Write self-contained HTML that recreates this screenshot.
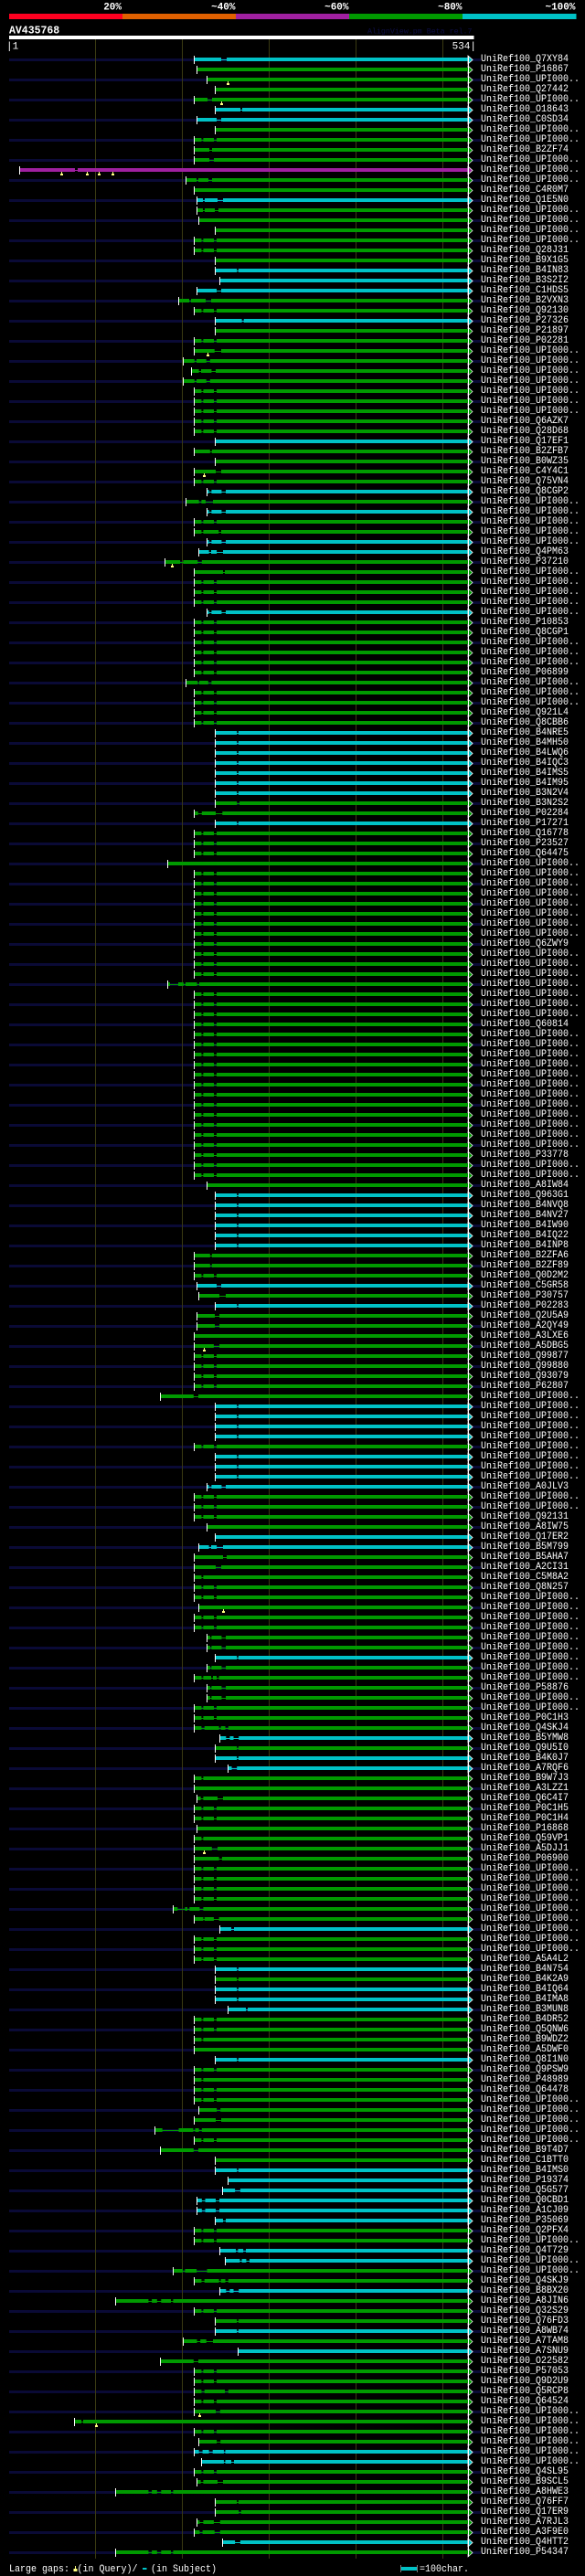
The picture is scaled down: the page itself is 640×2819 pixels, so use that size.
<!DOCTYPE html>
<html><head><meta charset="utf-8">
<style>
html,body{margin:0;padding:0;background:#000}
body{width:640px;height:2819px;position:relative;overflow:hidden}
svg{position:absolute;left:0;top:0}
svg text{font-family:"Liberation Mono",monospace;fill:#fff}
#lb{position:absolute;left:526px;top:60px;margin:0;font:11px/11px "Liberation Mono",monospace;color:#fff;white-space:pre;transform:scaleX(.909);transform-origin:0 0}
</style></head><body>
<svg width="640" height="2819" viewBox="0 0 640 2819" xmlns="http://www.w3.org/2000/svg">
<defs>
<pattern id="nv" patternUnits="userSpaceOnUse" x="0" y="64" width="640" height="22"><rect x="10" y="0" width="516" height="3" fill="#0a0a36"/></pattern>
<pattern id="ap" patternUnits="userSpaceOnUse" x="0" y="60" width="640" height="11"><path d="M512 1l5 4.5-5 4.5z" fill="#009a00" stroke="#fff" stroke-width=".7"/></pattern>
<g id="s" stroke="#009a00" fill="none"><path d="M212 .5H512"/><path stroke-width="4" d="M212.3 0H220.4M222.4 0H234M237 0H512"/><path stroke="#fff" d="M212.5-4v9"/></g>
<g id="gs" stroke="#009a00" fill="none"><path stroke-width="4" d="M212.3 0H512"/><path stroke="#fff" d="M212.5-4v9"/></g>
<g id="gs2" stroke="#009a00" fill="none"><path stroke-width="4" d="M235.5 0H512"/><path stroke="#fff" d="M235.5-4v9"/></g>
<g id="gsa" stroke="#009a00" fill="none"><path stroke-width="4" d="M226.5 0H512"/><path stroke="#fff" d="M226.5-4v9"/></g>
<g id="gb" stroke="#009a00" fill="none"><path d="M235 .5H512"/><path stroke-width="4" d="M235.5 0H259.2M260.8 0H512"/><path stroke="#fff" d="M235.5-4v9"/></g>
<g id="gq" stroke="#009a00" fill="none"><path d="M226 .5H512"/><path stroke-width="4" d="M226.5 0H229.8M231.4 0H242.4M247 0H512"/><path stroke="#fff" d="M226.5-4v9"/></g>
<g id="g2" stroke="#009a00" fill="none"><path d="M212 .5H512"/><path stroke-width="4" d="M212.3 0H220.4M222.4 0H512"/><path stroke="#fff" d="M212.5-4v9"/></g>
<g id="g30" stroke="#009a00" fill="none"><path d="M200 .5H512"/><path stroke-width="4" d="M200.4 0H212.7M215 0H225.7M229.8 0H512"/><path stroke="#fff" d="M200.5-4v9"/></g>
<g id="g39" stroke="#009a00" fill="none"><path d="M212 .5H512"/><path stroke-width="4" d="M212.3 0H229.8M231.8 0H512"/><path stroke="#fff" d="M212.5-4v9"/></g>
<g id="g41" stroke="#009a00" fill="none"><path d="M212 .5H512"/><path stroke-width="4" d="M212.3 0H236M242 0H512"/><path stroke="#fff" d="M212.5-4v9"/></g>
<g id="g125" stroke="#009a00" fill="none"><path d="M215 .5H512"/><path stroke-width="4" d="M215.5 0H235M240 0H512"/><path stroke="#fff" d="M215.5-4v9"/></g>
<g id="g133" stroke="#009a00" fill="none"><path d="M175 .5H512"/><path stroke-width="4" d="M175.5 0H211.8M217 0H512"/><path stroke="#fff" d="M175.5-4v9"/></g>
<g id="g166" stroke="#009a00" fill="none"><path d="M212 .5H512"/><path stroke-width="4" d="M212.3 0H220.4M223.7 0H239.6M241.6 0H246.5M249.8 0H512"/><path stroke="#fff" d="M212.5-4v9"/></g>
<g id="g173" stroke="#009a00" fill="none"><path d="M215 .5H512"/><path stroke-width="4" d="M215.5 0H219.6M222.4 0H238M244 0H512"/><path stroke="#fff" d="M215.5-4v9"/></g>
<g id="g204" stroke="#009a00" fill="none"><path d="M217 .5H512"/><path stroke-width="4" d="M217.6 0H237.1M241.2 0H512"/><path stroke="#fff" d="M217.5-4v9"/></g>
<g id="g223" stroke="#009a00" fill="none"><path d="M126 .5H512"/><path stroke-width="4" d="M126.5 0H162.4M166.1 0H171.8M176.3 0H187M189.4 0H512"/><path stroke="#fff" d="M126.5-4v9"/></g>
<g id="cb" stroke="#00c2c6" fill="none"><path d="M235 .5H512"/><path stroke-width="4" d="M235.5 0H259.2M260.8 0H512"/><path stroke="#fff" d="M235.5-4v9"/><path fill="#00c2c6" stroke="#fff" stroke-width=".7" d="M512-4l5 4.5-5 4.5z"/></g>
<g id="cq" stroke="#00c2c6" fill="none"><path d="M226 .5H512"/><path stroke-width="4" d="M226.5 0H228.6M231.4 0H242.4M247 0H512"/><path stroke="#fff" d="M226.5-4v9"/><path fill="#00c2c6" stroke="#fff" stroke-width=".7" d="M512-4l5 4.5-5 4.5z"/></g>
<g id="cs" stroke="#00c2c6" fill="none"><path stroke-width="4" d="M235.5 0H512"/><path stroke="#fff" d="M235.5-4v9"/><path fill="#00c2c6" stroke="#fff" stroke-width=".7" d="M512-4l5 4.5-5 4.5z"/></g>
<g id="c6" stroke="#00c2c6" fill="none"><path d="M215 .5H512"/><path stroke-width="4" d="M215.3 0H237M242 0H512"/><path stroke="#fff" d="M215.5-4v9"/><path fill="#00c2c6" stroke="#fff" stroke-width=".7" d="M512-4l5 4.5-5 4.5z"/></g>
<g id="c49" stroke="#00c2c6" fill="none"><path d="M217 .5H512"/><path stroke-width="4" d="M217.6 0H228.6M231 0H237.1M244 0H512"/><path stroke="#fff" d="M217.5-4v9"/><path fill="#00c2c6" stroke="#fff" stroke-width=".7" d="M512-4l5 4.5-5 4.5z"/></g>
<g id="c167" stroke="#00c2c6" fill="none"><path d="M240 .5H512"/><path stroke-width="4" d="M240.8 0H247.3M251.4 0H255.5M261.2 0H512"/><path stroke="#fff" d="M240.5-4v9"/><path fill="#00c2c6" stroke="#fff" stroke-width=".7" d="M512-4l5 4.5-5 4.5z"/></g>
<g id="c212" stroke="#00c2c6" fill="none"><path d="M243 .5H512"/><path stroke-width="4" d="M243.7 0H257.1M262.9 0H512"/><path stroke="#fff" d="M243.5-4v9"/><path fill="#00c2c6" stroke="#fff" stroke-width=".7" d="M512-4l5 4.5-5 4.5z"/></g>
<g id="c213" stroke="#00c2c6" fill="none"><path d="M215 .5H512"/><path stroke-width="4" d="M215.5 0H220.8M224.5 0H236M240 0H512"/><path stroke="#fff" d="M215.5-4v9"/><path fill="#00c2c6" stroke="#fff" stroke-width=".7" d="M512-4l5 4.5-5 4.5z"/></g>
</defs>

<!-- header -->
<text x="133" y="10.3" font-size="11" font-weight="bold" text-anchor="end">20%</text>
<text x="257.5" y="10.3" font-size="11" font-weight="bold" text-anchor="end">~40%</text>
<text x="381.5" y="10.3" font-size="11" font-weight="bold" text-anchor="end">~60%</text>
<text x="505.5" y="10.3" font-size="11" font-weight="bold" text-anchor="end">~80%</text>
<text x="629.5" y="10.3" font-size="11" font-weight="bold" text-anchor="end">~100%</text>
<rect x="10" y="15" width="124" height="6" fill="#ff0020"/>
<rect x="134" y="15" width="124" height="6" fill="#e06000"/>
<rect x="258" y="15" width="124" height="6" fill="#a020a0"/>
<rect x="382" y="15" width="124" height="6" fill="#009a00"/>
<rect x="506" y="15" width="124.5" height="6" fill="#00c2c6"/>
<text x="10" y="36.3" font-size="11.5" font-weight="bold">AV435768</text>
<text x="402" y="36.5" font-size="8.3" style="fill:#0e0e46">AlignView.pm Beta rel.7</text>
<rect x="10" y="39" width="508.5" height="4" fill="#fff"/>
<text x="7" y="53.5" font-size="11">|1</text>
<text x="521" y="53.5" font-size="11" text-anchor="end">534|</text>

<!-- background stripes and grid -->
<rect x="0" y="64" width="640" height="2732" fill="url(#nv)"/>
<path d="M104.5 43V2800M199.5 43V2800M294.5 43V2800M389.5 43V2800M484.5 43V2800" stroke="#3a3a12" fill="none"/>
<rect x="505" y="60" width="20" height="2739" fill="url(#ap)"/>

<!-- repeated row patterns -->
<use href="#gs2" y="98"/><use href="#c6" y="131"/><use href="#gs2" y="142"/><use href="#s" y="153"/><use href="#gs" y="208"/>
<use href="#gs2" y="252"/><use href="#s" y="263"/><use href="#s" y="274"/><use href="#gs2" y="285"/><use href="#cb" y="296"/>
<use href="#c6" y="318"/><use href="#s" y="340"/><use href="#gs2" y="362"/><use href="#s" y="373"/>
<use href="#g30" y="395"/><use href="#g30" y="417"/>
<use href="#s" y="428"/><use href="#s" y="439"/><use href="#s" y="450"/><use href="#s" y="461"/><use href="#s" y="472"/>
<use href="#cs" y="483"/><use href="#g39" y="494"/><use href="#gs2" y="505"/><use href="#g41" y="516"/><use href="#s" y="527"/>
<use href="#cq" y="538"/><use href="#cq" y="560"/><use href="#s" y="571"/><use href="#cq" y="593"/><use href="#c49" y="604"/>
<use href="#s" y="637"/><use href="#s" y="648"/><use href="#s" y="659"/><use href="#cq" y="670"/>
<use href="#s" y="681"/><use href="#s" y="692"/><use href="#s" y="703"/><use href="#s" y="714"/><use href="#s" y="725"/><use href="#s" y="736"/>
<use href="#s" y="758"/><use href="#s" y="769"/><use href="#s" y="780"/><use href="#s" y="791"/>
<use href="#cb" y="802"/><use href="#cb" y="813"/><use href="#cb" y="824"/><use href="#cb" y="835"/><use href="#cb" y="846"/><use href="#cb" y="857"/><use href="#cb" y="868"/>
<use href="#cb" y="901"/><use href="#s" y="912"/><use href="#s" y="923"/><use href="#s" y="934"/>
<use href="#s" y="956"/><use href="#s" y="967"/><use href="#s" y="978"/><use href="#s" y="989"/><use href="#s" y="1000"/><use href="#s" y="1011"/><use href="#s" y="1022"/><use href="#s" y="1033"/><use href="#s" y="1044"/><use href="#s" y="1055"/><use href="#s" y="1066"/>
<use href="#s" y="1088"/><use href="#s" y="1099"/><use href="#s" y="1110"/><use href="#s" y="1121"/><use href="#s" y="1132"/><use href="#s" y="1143"/><use href="#s" y="1154"/><use href="#s" y="1165"/><use href="#s" y="1176"/><use href="#s" y="1187"/><use href="#s" y="1198"/><use href="#s" y="1209"/><use href="#s" y="1220"/><use href="#s" y="1231"/><use href="#s" y="1242"/><use href="#s" y="1253"/><use href="#s" y="1264"/><use href="#s" y="1275"/><use href="#s" y="1286"/>
<use href="#gsa" y="1297"/>
<use href="#cb" y="1308"/><use href="#cb" y="1319"/><use href="#cb" y="1330"/><use href="#cb" y="1341"/><use href="#cb" y="1352"/><use href="#cb" y="1363"/>
<use href="#g39" y="1374"/><use href="#g39" y="1385"/><use href="#s" y="1396"/><use href="#c6" y="1407"/><use href="#cb" y="1429"/>
<use href="#g125" y="1440"/><use href="#g125" y="1451"/><use href="#gs" y="1462"/>
<use href="#s" y="1484"/><use href="#s" y="1495"/><use href="#s" y="1506"/><use href="#s" y="1517"/><use href="#g133" y="1528"/>
<use href="#cb" y="1539"/><use href="#cb" y="1550"/><use href="#cb" y="1561"/><use href="#cb" y="1572"/><use href="#s" y="1583"/>
<use href="#cb" y="1594"/><use href="#cb" y="1605"/><use href="#cb" y="1616"/><use href="#cq" y="1627"/>
<use href="#s" y="1638"/><use href="#s" y="1649"/><use href="#s" y="1660"/><use href="#gsa" y="1671"/><use href="#cs" y="1682"/><use href="#c49" y="1693"/>
<use href="#g41" y="1715"/><use href="#g2" y="1726"/><use href="#s" y="1737"/><use href="#s" y="1748"/><use href="#s" y="1770"/><use href="#s" y="1781"/>
<use href="#gq" y="1792"/><use href="#gq" y="1803"/><use href="#cb" y="1814"/><use href="#gq" y="1825"/><use href="#gq" y="1847"/><use href="#gq" y="1858"/>
<use href="#s" y="1869"/><use href="#s" y="1880"/><use href="#g166" y="1891"/><use href="#c167" y="1902"/><use href="#gb" y="1913"/><use href="#cb" y="1924"/>
<use href="#g2" y="1946"/><use href="#gs" y="1957"/><use href="#g173" y="1968"/><use href="#s" y="1979"/><use href="#s" y="1990"/><use href="#g2" y="2012"/>
<use href="#s" y="2045"/><use href="#s" y="2056"/><use href="#s" y="2067"/><use href="#s" y="2078"/>
<use href="#s" y="2122"/><use href="#s" y="2133"/><use href="#s" y="2144"/><use href="#cb" y="2155"/><use href="#gb" y="2166"/><use href="#cb" y="2177"/><use href="#cb" y="2188"/>
<use href="#s" y="2210"/><use href="#s" y="2221"/><use href="#g2" y="2232"/><use href="#gs" y="2243"/><use href="#cb" y="2254"/><use href="#s" y="2265"/><use href="#g2" y="2276"/>
<use href="#s" y="2287"/><use href="#s" y="2298"/><use href="#g204" y="2309"/><use href="#g41" y="2320"/><use href="#s" y="2342"/><use href="#g133" y="2353"/><use href="#gs2" y="2364"/><use href="#cb" y="2375"/>
<use href="#c212" y="2397"/><use href="#c213" y="2408"/><use href="#c213" y="2419"/><use href="#s" y="2441"/><use href="#s" y="2452"/>
<use href="#g166" y="2496"/><use href="#c167" y="2507"/><use href="#g223" y="2518"/><use href="#s" y="2529"/><use href="#gb" y="2540"/><use href="#cb" y="2551"/>
<use href="#g133" y="2584"/><use href="#s" y="2595"/><use href="#s" y="2606"/><use href="#s" y="2628"/><use href="#s" y="2661"/><use href="#g204" y="2672"/>
<use href="#s" y="2705"/><use href="#g173" y="2716"/><use href="#g223" y="2727"/><use href="#gb" y="2738"/><use href="#c212" y="2782"/><use href="#g223" y="2793"/>

<!-- unique green rows -->
<path fill="none" stroke="#009a00" d="M212 109.5H512M212 164.5H512M212 175.5H512M203 197.5H512M215 230.5H512M195 329.5H512M212 384.5H512M209 406.5H512M203 549.5H512M212 582.5H512M180 615.5H512M212 626.5H512M203 747.5H512M235 879.5H512M212 890.5H512M184 1077.5H512M217 1418.5H512M212 1473.5H512M212 1704.5H512M212 1836.5H512M212 2023.5H512M212 2034.5H512M189 2089.5H512M212 2100.5H512M169 2331.5H512M189 2485.5H512M200 2562.5H512M212 2617.5H512M212 2639.5H512M81 2650.5H512M235 2749.5H512M215 2760.5H512M212 2771.5H512"/>
<path fill="none" stroke="#009a00" stroke-width="4" d="M215 76H512
M226.7 87H512
M212.3 109H227M232 109H512
M212.3 164H229M232 164H512
M212.3 175H229M234 175H512
M203.3 197H215M217 197H228M232 197H512
M215.3 230H222M224 230H235M239 230H512
M217.3 241H512
M195.3 329H207M209 329H225M231 329H512
M212.3 384H234.7M242 384H512
M209.4 406H217.6M220 406H231.4M236 406H512
M203.3 549H217.6M220.4 549H224.9M233 549H512
M212.3 582H220.4M222.4 582H239.2M242 582H512
M180.4 615H197.1M200.4 615H216.3M220.8 615H512
M212.3 626H244M246 626H512
M203.3 747H216.3M218 747H227.8M231.4 747H512
M235.5 879H259.2M262 879H512
M212.3 890H216.7M220.8 890H236M243.3 890H512
M183.7 945H512
M183.7 1077H186M195 1077H200.8M202.9 1077H215.5M218 1077H512
M217.6 1418H240M247 1418H512
M212.3 1473H233.9M240 1473H512
M212.3 1704H244M248 1704H512
M217.6 1759H512
M212.3 1836H220.4M222.4 1836H231M233 1836H237M239.6 1836H512
M215.5 2001H512
M212.3 2023H231.8M238 2023H512
M212.3 2034H239.6M242.9 2034H512
M189.4 2089H194.3M202.4 2089H204.9M207.3 2089H218.4M222.4 2089H512
M212.3 2100H222.4M223.7 2100H233.9M239.6 2100H512
M169.4 2331H177.6M195.5 2331H211.4M213.5 2331H217.6M220.8 2331H512
M189.4 2485H200M202.4 2485H215.1M226.5 2485H512
M200.4 2562H215.5M219.2 2562H225.7M233 2562H512
M212.3 2617H220.4M223.7 2617H246M249.8 2617H512
M212.3 2639H236M240.8 2639H512
M81.2 2650H89M91 2650H512
M235.5 2749H261.2M263.7 2749H512
M215.5 2760H218.4M222.4 2760H233.9M240.8 2760H512
M212.3 2771H218.4M221.6 2771H234.7M240.8 2771H512"/>

<!-- unique cyan rows -->
<path fill="none" stroke="#00c2c6" d="M212 65.5H512M235 120.5H512M215 219.5H512M235 351.5H512M249 1935.5H512M240 2111.5H512M249 2199.5H512M235 2430.5H512M240 2463.5H512M246 2474.5H512M212 2683.5H512M220 2694.5H512"/>
<path fill="none" stroke="#00c2c6" stroke-width="4" d="M212.3 65H242M248 65H512
M235.3 120H263M265 120H512
M215.3 219H222M224 219H238M244 219H512
M240.3 307H512
M235.5 351H264.6M266.7 351H512
M249.4 1935H253.5M259.2 1935H512
M240.8 2111H253M256 2111H512
M249.4 2199H269M271 2199H512
M249.4 2386H512
M235.5 2430H244M247 2430H512
M240.8 2463H258M260.4 2463H266.1M269 2463H512
M246.5 2474H262.4M264.5 2474H269.4M273 2474H512
M260.4 2573H512
M212.6 2683H217.6M221.6 2683H228.6M232.7 2683H244.9M246.5 2683H512
M220.4 2694H244.9M246.5 2694H253M256 2694H512"/>
<path fill="#00c2c6" stroke="#fff" stroke-width=".7" d="M512 61l5 4.5-5 4.5zM512 116l5 4.5-5 4.5zM512 215l5 4.5-5 4.5zM512 303l5 4.5-5 4.5zM512 347l5 4.5-5 4.5zM512 1931l5 4.5-5 4.5zM512 2107l5 4.5-5 4.5zM512 2195l5 4.5-5 4.5zM512 2382l5 4.5-5 4.5zM512 2426l5 4.5-5 4.5zM512 2459l5 4.5-5 4.5zM512 2470l5 4.5-5 4.5zM512 2569l5 4.5-5 4.5zM512 2679l5 4.5-5 4.5zM512 2690l5 4.5-5 4.5z"/>

<!-- purple row -->
<path fill="none" stroke="#a020a0" d="M21 186.5H512"/>
<path fill="none" stroke="#a020a0" stroke-width="4" d="M21.3 186H82M85 186H512"/>
<path fill="#a020a0" stroke="#fff" stroke-width=".7" d="M512 182l5 4.5-5 4.5z"/>

<!-- start ticks for unique rows -->
<path fill="none" stroke="#fff" d="M215.5 72v9M226.5 83v9M212.5 105v9M212.5 160v9M212.5 171v9M203.5 193v9M215.5 226v9M217.5 237v9M195.5 325v9M212.5 380v9M209.5 402v9M203.5 545v9M212.5 578v9M180.5 611v9M212.5 622v9M203.5 743v9M235.5 875v9M212.5 886v9M183.5 941v9M183.5 1073v9M217.5 1414v9M212.5 1469v9M212.5 1700v9M217.5 1755v9M212.5 1832v9M215.5 1997v9M212.5 2019v9M212.5 2030v9M189.5 2085v9M212.5 2096v9M169.5 2327v9M189.5 2481v9M200.5 2558v9M212.5 2613v9M212.5 2635v9M81.5 2646v9M235.5 2745v9M215.5 2756v9M212.5 2767v9M212.5 61v9M235.5 116v9M215.5 215v9M240.5 303v9M235.5 347v9M249.5 1931v9M240.5 2107v9M249.5 2195v9M249.5 2382v9M235.5 2426v9M240.5 2459v9M246.5 2470v9M260.5 2569v9M212.5 2679v9M220.5 2690v9M21.5 182v9"/>

<path stroke="#fff" d="M512.5 61V2798"/>

<!-- gap markers (in query) -->
<path fill="#ffff80" d="M248 91h3v2h-3zM249 89h1v2h-1zM241 113h3v2h-3zM242 111h1v2h-1zM66 190h3v2h-3zM67 188h1v2h-1zM94 190h3v2h-3zM95 188h1v2h-1zM107 190h3v2h-3zM108 188h1v2h-1zM122 190h3v2h-3zM123 188h1v2h-1zM226 388h3v2h-3zM227 386h1v2h-1zM222 520h3v2h-3zM223 518h1v2h-1zM187 619h3v2h-3zM188 617h1v2h-1zM222 1477h3v2h-3zM223 1475h1v2h-1zM243 1763h3v2h-3zM244 1761h1v2h-1zM222 2027h3v2h-3zM223 2025h1v2h-1zM217 2643h3v2h-3zM218 2641h1v2h-1zM104 2654h3v2h-3zM105 2652h1v2h-1z"/>

<!-- legend -->
<text x="10" y="2814" font-size="11" textLength="66" lengthAdjust="spacingAndGlyphs">Large gaps:</text>
<path fill="#ffff80" d="M82 2808h1v3h-1zM80.5 2811h4v3h-4z"/>
<text x="84.5" y="2814" font-size="11" textLength="66" lengthAdjust="spacingAndGlyphs">(in Query)/</text>
<rect x="156" y="2810" width="4.5" height="2" fill="#00c2c6"/>
<text x="165" y="2814" font-size="11" textLength="72" lengthAdjust="spacingAndGlyphs">(in Subject)</text>
<rect x="439" y="2809" width="17" height="4" fill="#00c2c6"/>
<path stroke="#777" d="M438.5 2807v8M456.5 2807v8"/>
<text x="459" y="2814" font-size="11" textLength="54" lengthAdjust="spacingAndGlyphs">=100char.</text>
</svg>
<div id="lb">UniRef100_Q7XY84
UniRef100_P16867
UniRef100_UPI000..
UniRef100_Q27442
UniRef100_UPI000..
UniRef100_O18643
UniRef100_C0SD34
UniRef100_UPI000..
UniRef100_UPI000..
UniRef100_B2ZF74
UniRef100_UPI000..
UniRef100_UPI000..
UniRef100_UPI000..
UniRef100_C4R0M7
UniRef100_Q1E5N0
UniRef100_UPI000..
UniRef100_UPI000..
UniRef100_UPI000..
UniRef100_UPI000..
UniRef100_Q28J31
UniRef100_B9X1G5
UniRef100_B4IN83
UniRef100_B3S2I2
UniRef100_C1HDS5
UniRef100_B2VXN3
UniRef100_Q92130
UniRef100_P27326
UniRef100_P21897
UniRef100_P02281
UniRef100_UPI000..
UniRef100_UPI000..
UniRef100_UPI000..
UniRef100_UPI000..
UniRef100_UPI000..
UniRef100_UPI000..
UniRef100_UPI000..
UniRef100_Q6AZK7
UniRef100_Q28D68
UniRef100_Q17EF1
UniRef100_B2ZFB7
UniRef100_B0WZ35
UniRef100_C4Y4C1
UniRef100_Q75VN4
UniRef100_Q8CGP2
UniRef100_UPI000..
UniRef100_UPI000..
UniRef100_UPI000..
UniRef100_UPI000..
UniRef100_UPI000..
UniRef100_Q4PM63
UniRef100_P37210
UniRef100_UPI000..
UniRef100_UPI000..
UniRef100_UPI000..
UniRef100_UPI000..
UniRef100_UPI000..
UniRef100_P10853
UniRef100_Q8CGP1
UniRef100_UPI000..
UniRef100_UPI000..
UniRef100_UPI000..
UniRef100_P06899
UniRef100_UPI000..
UniRef100_UPI000..
UniRef100_UPI000..
UniRef100_Q921L4
UniRef100_Q8CBB6
UniRef100_B4NRE5
UniRef100_B4MH50
UniRef100_B4LWQ6
UniRef100_B4IQC3
UniRef100_B4IMS5
UniRef100_B4IM95
UniRef100_B3N2V4
UniRef100_B3N2S2
UniRef100_P02284
UniRef100_P17271
UniRef100_Q16778
UniRef100_P23527
UniRef100_Q64475
UniRef100_UPI000..
UniRef100_UPI000..
UniRef100_UPI000..
UniRef100_UPI000..
UniRef100_UPI000..
UniRef100_UPI000..
UniRef100_UPI000..
UniRef100_UPI000..
UniRef100_Q6ZWY9
UniRef100_UPI000..
UniRef100_UPI000..
UniRef100_UPI000..
UniRef100_UPI000..
UniRef100_UPI000..
UniRef100_UPI000..
UniRef100_UPI000..
UniRef100_Q60814
UniRef100_UPI000..
UniRef100_UPI000..
UniRef100_UPI000..
UniRef100_UPI000..
UniRef100_UPI000..
UniRef100_UPI000..
UniRef100_UPI000..
UniRef100_UPI000..
UniRef100_UPI000..
UniRef100_UPI000..
UniRef100_UPI000..
UniRef100_UPI000..
UniRef100_P33778
UniRef100_UPI000..
UniRef100_UPI000..
UniRef100_A8IW84
UniRef100_Q963G1
UniRef100_B4NVQ8
UniRef100_B4NV27
UniRef100_B4IW90
UniRef100_B4IQ22
UniRef100_B4INP8
UniRef100_B2ZFA6
UniRef100_B2ZF89
UniRef100_Q0D2M2
UniRef100_C5GR58
UniRef100_P30757
UniRef100_P02283
UniRef100_Q2U5A9
UniRef100_A2QY49
UniRef100_A3LXE6
UniRef100_A5DBG5
UniRef100_Q99877
UniRef100_Q99880
UniRef100_Q93079
UniRef100_P62807
UniRef100_UPI000..
UniRef100_UPI000..
UniRef100_UPI000..
UniRef100_UPI000..
UniRef100_UPI000..
UniRef100_UPI000..
UniRef100_UPI000..
UniRef100_UPI000..
UniRef100_UPI000..
UniRef100_A0JLV3
UniRef100_UPI000..
UniRef100_UPI000..
UniRef100_Q92131
UniRef100_A8IW75
UniRef100_Q17ER2
UniRef100_B5M799
UniRef100_B5AHA7
UniRef100_A2CI31
UniRef100_C5M8A2
UniRef100_Q8N257
UniRef100_UPI000..
UniRef100_UPI000..
UniRef100_UPI000..
UniRef100_UPI000..
UniRef100_UPI000..
UniRef100_UPI000..
UniRef100_UPI000..
UniRef100_UPI000..
UniRef100_UPI000..
UniRef100_P58876
UniRef100_UPI000..
UniRef100_UPI000..
UniRef100_P0C1H3
UniRef100_Q4SKJ4
UniRef100_B5YMW8
UniRef100_Q9U5I0
UniRef100_B4K0J7
UniRef100_A7RQF6
UniRef100_B9W7J3
UniRef100_A3LZZ1
UniRef100_Q6C4I7
UniRef100_P0C1H5
UniRef100_P0C1H4
UniRef100_P16868
UniRef100_Q59VP1
UniRef100_A5DJJ1
UniRef100_P06900
UniRef100_UPI000..
UniRef100_UPI000..
UniRef100_UPI000..
UniRef100_UPI000..
UniRef100_UPI000..
UniRef100_UPI000..
UniRef100_UPI000..
UniRef100_UPI000..
UniRef100_UPI000..
UniRef100_A5A4L2
UniRef100_B4N754
UniRef100_B4K2A9
UniRef100_B4IQ64
UniRef100_B4IMA8
UniRef100_B3MUN8
UniRef100_B4DR52
UniRef100_Q5QNW6
UniRef100_B9WDZ2
UniRef100_A5DWF0
UniRef100_Q8I1N0
UniRef100_Q9PSW9
UniRef100_P48989
UniRef100_Q64478
UniRef100_UPI000..
UniRef100_UPI000..
UniRef100_UPI000..
UniRef100_UPI000..
UniRef100_UPI000..
UniRef100_B9T4D7
UniRef100_C1BTT0
UniRef100_B4IMS0
UniRef100_P19374
UniRef100_Q5G577
UniRef100_Q0CBD1
UniRef100_A1CJ09
UniRef100_P35069
UniRef100_Q2PFX4
UniRef100_UPI000..
UniRef100_Q4T729
UniRef100_UPI000..
UniRef100_UPI000..
UniRef100_Q4SKJ9
UniRef100_B8BX20
UniRef100_A8JIN6
UniRef100_Q32S29
UniRef100_Q76FD3
UniRef100_A8WB74
UniRef100_A7TAM8
UniRef100_A7SNU9
UniRef100_O22582
UniRef100_P57053
UniRef100_Q9D2U9
UniRef100_Q5RCP8
UniRef100_Q64524
UniRef100_UPI000..
UniRef100_UPI000..
UniRef100_UPI000..
UniRef100_UPI000..
UniRef100_UPI000..
UniRef100_UPI000..
UniRef100_Q4SL95
UniRef100_B9SCL5
UniRef100_A8HWE3
UniRef100_Q76FF7
UniRef100_Q17ER9
UniRef100_A7RJL3
UniRef100_A3F9E0
UniRef100_Q4HTT2
UniRef100_P54347</div>
</body></html>
